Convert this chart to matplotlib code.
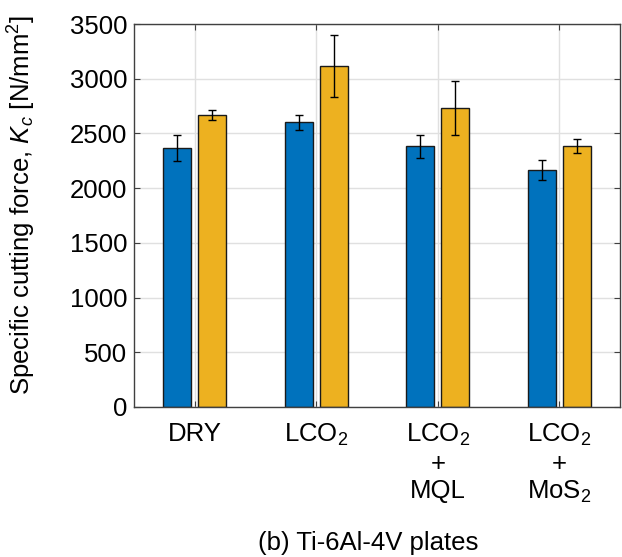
import matplotlib
matplotlib.use("Agg")
import matplotlib.pyplot as plt
import numpy as np

plt.rcParams['font.family'] = ['Liberation Sans', 'DejaVu Sans']
plt.rcParams['mathtext.fontset'] = 'custom'
plt.rcParams['mathtext.rm'] = 'Liberation Sans'
plt.rcParams['mathtext.it'] = 'Liberation Sans:italic'

categories = ["DRY", "LCO$_2$", "LCO$_2$\n+\nMQL", "LCO$_2$\n+\nMoS$_2$"]
series1 = [2365, 2600, 2385, 2163]
series1_err = [120, 67, 105, 93]
series2 = [2665, 3114, 2735, 2383]
series2_err = [45, 282, 247, 66]
yticks = [0, 500, 1000, 1500, 2000, 2500, 3000, 3500]

FS = 18.5
fig = plt.figure(figsize=(6.22, 5.57), dpi=100)
ax = fig.add_axes([134/622, 1-407/557, (620-134)/622, (407-24)/557])

x = np.arange(1, len(categories) + 1)
w = 0.23
off = 0.145
ax.bar(x - off, series1, w, color='#0072BD', edgecolor='#1a1a1a', linewidth=1.0, zorder=3)
ax.bar(x + off, series2, w, color='#EDB120', edgecolor='#1a1a1a', linewidth=1.0, zorder=3)
ax.errorbar(x - off, series1, yerr=series1_err, fmt='none', ecolor='black', elinewidth=1.0, capsize=3, capthick=1.0, zorder=4)
ax.errorbar(x + off, series2, yerr=series2_err, fmt='none', ecolor='black', elinewidth=1.0, capsize=3, capthick=1.0, zorder=4)

ax.set_xlim(0.5, 4.5)
ax.set_ylim(0, 3500)
ax.set_yticks(yticks)
ax.set_yticklabels([str(v) for v in yticks], fontsize=FS)
ax.set_xticks(x)
ax.set_xticklabels(categories, fontsize=FS, linespacing=1.17, va='top')
ax.grid(True, color='#e0e0e0', linewidth=1.0, zorder=0)
ax.set_axisbelow(True)
ax.tick_params(direction='in', top=True, right=True, length=4, width=0.8, color='#404040')
ax.tick_params(axis='y', pad=5)
ax.tick_params(axis='x', pad=11)
for s in ax.spines.values():
    s.set_color('#404040')
    s.set_linewidth(1.0)
    s.set_zorder(5)

ax.set_ylabel("Specific cutting force, $K_c$ [N/mm$^2$]", fontsize=FS)
ax.yaxis.set_label_coords((38-134)/486, (407-205)/383)
fig.text(368/622, 1-543/557, "(b) Ti-6Al-4V plates", ha='center', va='center', fontsize=FS)

fig.savefig("out.png", dpi=100)
